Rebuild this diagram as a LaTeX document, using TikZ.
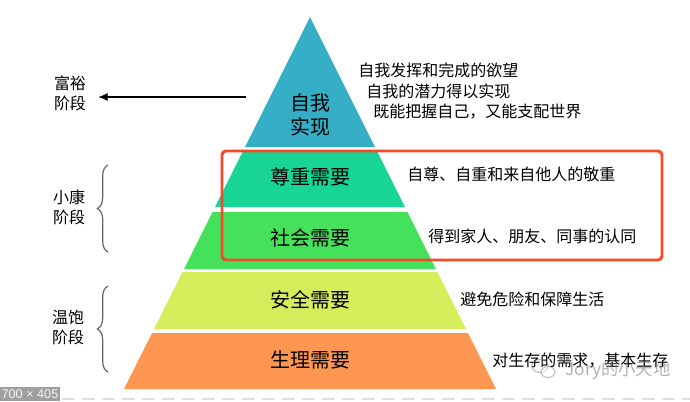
\documentclass[tikz,border=0pt]{standalone}
\usepackage{fontspec}
\setmainfont{Noto Sans CJK SC}
\newfontfamily\badgefont{Liberation Sans}
\usetikzlibrary{arrows.meta,decorations.pathreplacing}
\definecolor{cA}{HTML}{35ADC5}
\definecolor{cB}{HTML}{18D495}
\definecolor{cC}{HTML}{45E15A}
\definecolor{cD}{HTML}{D6EC5A}
\definecolor{cE}{HTML}{FD9651}
\definecolor{redbox}{HTML}{F44A2C}
\definecolor{bracegray}{HTML}{666666}
\tikzset{
  biglabel/.style={font=\fontsize{15}{18}\selectfont, inner sep=0pt, align=center},
  desc/.style={font=\fontsize{12}{15}\selectfont, inner sep=0pt, anchor=west},
  stage/.style={font=\fontsize{12}{15}\selectfont, inner sep=0pt, align=center},
  stagebrace/.style={draw=bracegray, line width=0.9pt, decorate, decoration={brace, amplitude=8pt}},
}
\begin{document}
\begin{tikzpicture}[x=0.75pt,y=-0.75pt]
\useasboundingbox (0,0) rectangle (690,401);
\fill[white] (0,0) rectangle (690,401);
% pyramid layers
\fill[cA] (310,17) -- (375,147) -- (245,147) -- cycle;
\fill[cB] (242.5,152) -- (377.5,152) -- (405,207) -- (215,207) -- cycle;
\fill[cC] (212.5,212) -- (407.5,212) -- (436,269) -- (184,269) -- cycle;
\fill[cD] (182.5,272) -- (437.5,272) -- (466,329) -- (154,329) -- cycle;
\fill[cE] (152,333) -- (468,333) -- (496,389) -- (124,389) -- cycle;
% red highlight box
\draw[redbox, line width=2.2pt, rounded corners=3pt] (222,151) rectangle (662,260);
% layer labels
\node[biglabel] (self) at (310,115) {自我\\实现};
\node[biglabel] (esteem) at (310,177) {尊重需要};
\node[biglabel] (social) at (310,238) {社会需要};
\node[biglabel] (safety) at (310,300) {安全需要};
\node[biglabel] (phys) at (310,360) {生理需要};
% descriptions
\node[desc] (d1) at (358,70) {自我发挥和完成的欲望};
\node[desc] (d2) at (366,91) {自我的潜力得以实现};
\node[desc] (d3) at (373,112) {既能把握自己，又能支配世界};
\node[desc] (d4) at (407,174) {自尊、自重和来自他人的敬重};
\node[desc] (d5) at (428,236) {得到家人、朋友、同事的认同};
\node[desc] (d6) at (460,299) {避免危险和保障生活};
\node[desc] (d7) at (492,361) {对生存的需求，基本生存};
% stages
\node[stage] (rich) at (70,93) {富裕\\阶段};
\node[stage] (xk) at (69,207) {小康\\阶段};
\node[stage] (wb) at (68,327) {温饱\\阶段};
\coordinate (arrowstart) at (246,97);
\draw[-{Latex[length=7pt,width=6pt]}, line width=0.8pt, shorten >=9pt] (arrowstart) -- (rich.east |- arrowstart);
\coordinate (b1top) at (108,165);
\coordinate (b1bot) at (108,252);
\coordinate (b2top) at (108,286);
\coordinate (b2bot) at (108,372);
\draw[stagebrace] (b1bot) -- (b1top);
\draw[stagebrace] (b2bot) -- (b2top);
% watermark
\begin{scope}[opacity=0.5, line width=0.8pt]
\draw[gray] (540,366) ellipse (8 and 6.5);
\draw[gray, fill=white] (548,372) ellipse (7 and 5.5);
\end{scope}
\node[font=\fontsize{13}{15}\selectfont, text=gray, opacity=0.6, inner sep=0pt, anchor=west] (wm) at (565,370) {Jory的小天地};
% bottom dashed line and size badge
\draw[gray!25, line width=0.8pt, dash pattern=on 10pt off 5pt] (62,399) -- (690,399);
\fill[gray!75] (0,387) rectangle (60,401);
\node[font=\badgefont\fontsize{9.5}{11}\selectfont, text=white!92!gray, inner sep=0pt] (badge) at (30,394.5) {700 × 405};
\end{tikzpicture}
\end{document}
